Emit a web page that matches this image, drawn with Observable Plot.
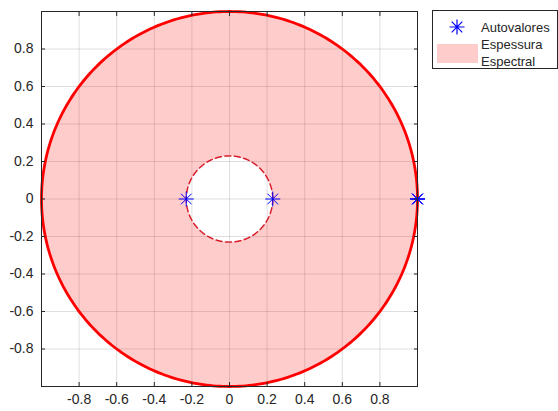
<!DOCTYPE html>
<html>
<head>
<meta charset="utf-8">
<script src="https://cdn.jsdelivr.net/npm/d3@7"></script>
<script src="https://cdn.jsdelivr.net/npm/@observablehq/plot@0.6"></script>
<style>
  html, body { margin: 0; padding: 0; background: #fff; overflow: hidden; }
  #wrap { position: relative; width: 558px; height: 411px; }
  #legend {
    position: absolute; left: 432px; top: 10px; width: 124px; height: 57px;
    border: 1px solid #262626; background: #fff;
    font-family: "Liberation Sans", Arial, sans-serif; font-size: 13px; color: #262626;
  }
  #legend .row { position: absolute; left: 48px; line-height: 17px; white-space: nowrap; }
  #legend .patch { position: absolute; left: 4px; top: 33px; width: 41px; height: 19px; background: rgba(255,0,0,0.2); }
  #legend svg { position: absolute; left: 15px; top: 7px; }
</style>
</head>
<body>
<div id="wrap"></div>
<script>
// ---- data ----
const outerRadius = 1.0;          // raio espectral
const innerRadius = 0.23;         // segundo maior autovalor em módulo
const eigenRe = [-0.23, 0.23, 1, 1, 1];
const eigenIm = [0, 0, 0, 0, 0];
const xTicks = [-0.8, -0.6, -0.4, -0.2, 0, 0.2, 0.4, 0.6, 0.8];
const yTicks = [-0.8, -0.6, -0.4, -0.2, 0, 0.2, 0.4, 0.6, 0.8];
const legendLabels = ["Autovalores", "Espessura", "Espectral"];

// ---- geometry built from the radii ----
const angles = d3.range(0, 361, 1).map(d => d * Math.PI / 180);
const circle = r => angles.map(a => ({x: r * Math.cos(a), y: r * Math.sin(a)}));
const outer = circle(outerRadius);
const inner = circle(innerRadius);
const annulus = outer.concat(inner.slice().reverse());
const eig = eigenRe.map((re, i) => ({x: re, y: eigenIm[i]}));

const asterisk = {
  draw(ctx, size) {
    const r = Math.sqrt(size / Math.PI);
    const d = r * Math.SQRT1_2;
    ctx.moveTo(-r, 0); ctx.lineTo(r, 0);
    ctx.moveTo(0, -r); ctx.lineTo(0, r);
    ctx.moveTo(-d, -d); ctx.lineTo(d, d);
    ctx.moveTo(-d, d); ctx.lineTo(d, -d);
  }
};
const fmt = d => String(+d.toFixed(1));
const axisColor = "#262626";

const chart = Plot.plot({
  width: 558,
  height: 411,
  marginLeft: 41,
  marginRight: 141,
  marginTop: 11,
  marginBottom: 25,
  style: {fontFamily: "'Liberation Sans', Arial, sans-serif", fontSize: "14px", color: axisColor, background: "#fff"},
  x: {domain: [-1, 1], label: null},
  y: {domain: [-1, 1], label: null},
  marks: [
    Plot.gridX(xTicks, {stroke: axisColor, strokeOpacity: 0.15, strokeWidth: 1}),
    Plot.gridY(yTicks, {stroke: axisColor, strokeOpacity: 0.15, strokeWidth: 1}),
    Plot.line(annulus, {x: "x", y: "y", fill: "#ff0000", fillOpacity: 0.2, stroke: "none", curve: "linear"}),
    Plot.line(outer, {x: "x", y: "y", stroke: "#ff0000", strokeWidth: 2.8}),
    Plot.line(inner, {x: "x", y: "y", stroke: "#d81e2a", strokeWidth: 1.5, strokeDasharray: "6,3.5"}),
    Plot.dot(eig, {x: "x", y: "y", symbol: asterisk, r: 7.5, fill: "none", stroke: "#0000ff", strokeWidth: 1}),
    Plot.frame({stroke: axisColor, strokeWidth: 1}),
    Plot.axisX(xTicks, {anchor: "bottom", tickSize: 0, tickPadding: 8, tickFormat: fmt, label: null}),
    Plot.axisY(yTicks, {anchor: "left", tickSize: 0, tickPadding: 8, tickFormat: fmt, label: null}),
    Plot.axisX(xTicks, {anchor: "bottom", tickSize: -4, text: null, label: null, stroke: axisColor}),
    Plot.axisX(xTicks, {anchor: "top", tickSize: -4, text: null, label: null, stroke: axisColor}),
    Plot.axisY(yTicks, {anchor: "left", tickSize: -4, text: null, label: null, stroke: axisColor}),
    Plot.axisY(yTicks, {anchor: "right", tickSize: -4, text: null, label: null, stroke: axisColor})
  ]
});

const wrap = document.getElementById("wrap");
wrap.appendChild(chart);

// legend
const legend = document.createElement("div");
legend.id = "legend";
legend.innerHTML = `
  <svg width="18" height="18" viewBox="-9 -9 18 18">
    <path d="M-7.5,0L7.5,0M0,-7.5L0,7.5M-5.3,-5.3L5.3,5.3M-5.3,5.3L5.3,-5.3" stroke="#0000ff" stroke-width="1.2" fill="none"/>
  </svg>
  <div class="row" style="top:8px">${legendLabels[0]}</div>
  <div class="patch"></div>
  <div class="row" style="top:25px">${legendLabels[1]}</div>
  <div class="row" style="top:42px">${legendLabels[2]}</div>`;
wrap.appendChild(legend);
</script>
</body>
</html>
